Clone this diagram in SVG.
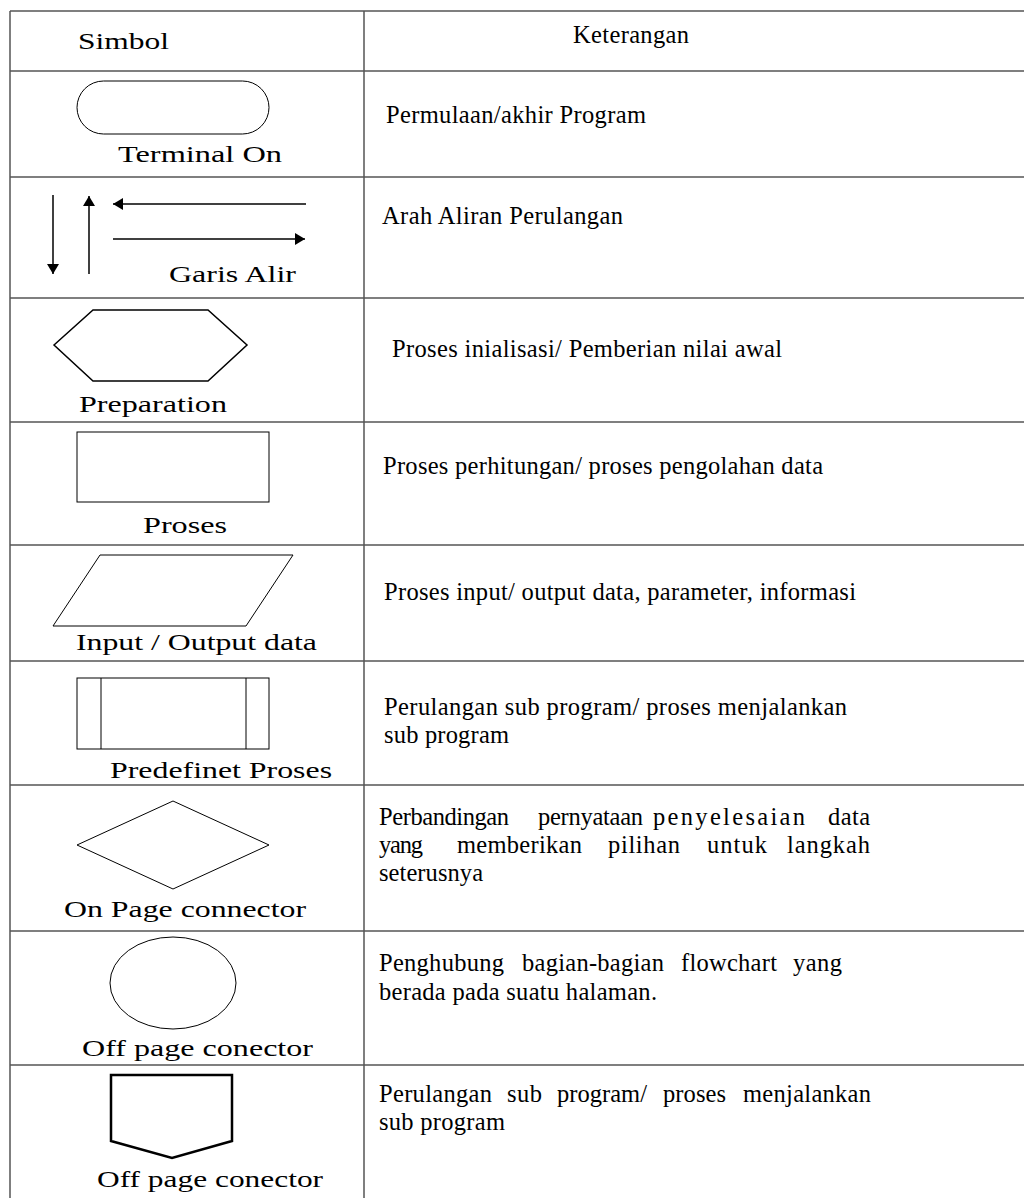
<svg xmlns="http://www.w3.org/2000/svg" width="1024" height="1198" viewBox="0 0 1024 1198">
<style>
.grid{stroke:#555;stroke-width:1.5;fill:none}
.shape{stroke:#000;stroke-width:1;fill:none}
.sym{font-family:"Liberation Serif","Times New Roman",serif;font-size:23px;fill:#000}
.desc{font-family:"Liberation Serif","Times New Roman",serif;font-size:24.5px;fill:#000}
.arr{stroke:#000;stroke-width:1.5;fill:none}
</style>
<defs>
<marker id="ah" viewBox="0 0 10 12" refX="10" refY="6" markerWidth="10" markerHeight="12" markerUnits="userSpaceOnUse" orient="auto">
<path d="M0,0 L10,6 L0,12 z" fill="#000"/>
</marker>
</defs>
<rect width="1024" height="1198" fill="#fff"/>
<g id="table">
<line class="grid" x1="10" y1="11" x2="1024" y2="11"/>
<line class="grid" x1="10" y1="71" x2="1024" y2="71"/>
<line class="grid" x1="10" y1="177" x2="1024" y2="177"/>
<line class="grid" x1="10" y1="298" x2="1024" y2="298"/>
<line class="grid" x1="10" y1="422" x2="1024" y2="422"/>
<line class="grid" x1="10" y1="545" x2="1024" y2="545"/>
<line class="grid" x1="10" y1="661" x2="1024" y2="661"/>
<line class="grid" x1="10" y1="785" x2="1024" y2="785"/>
<line class="grid" x1="10" y1="931" x2="1024" y2="931"/>
<line class="grid" x1="10" y1="1065" x2="1024" y2="1065"/>
<line class="grid" x1="10" y1="11" x2="10" y2="1198"/>
<line class="grid" x1="364" y1="11" x2="364" y2="1198"/>
</g>
<g id="header">
<text class="sym" transform="translate(78,49) scale(1.38,1)" textLength="65.9" lengthAdjust="spacingAndGlyphs">Simbol</text>
<text class="desc" x="573" y="43" textLength="116" lengthAdjust="spacing">Keterangan</text>
</g>
<g id="terminal">
<rect class="shape" x="77" y="81" width="192" height="53" rx="26.5" ry="26.5"/>
<text class="sym" transform="translate(118,162) scale(1.38,1)" textLength="118.8" lengthAdjust="spacingAndGlyphs">Terminal On</text>
<text class="desc" x="386" y="123" textLength="260" lengthAdjust="spacing">Permulaan/akhir Program</text>
</g>
<g id="garis-alir">
<g id="connectors">
<line class="arr" x1="53" y1="195" x2="53" y2="274" marker-end="url(#ah)"/>
<line class="arr" x1="89" y1="274" x2="89" y2="196" marker-end="url(#ah)"/>
<line class="arr" x1="306" y1="204" x2="113" y2="204" marker-end="url(#ah)"/>
<line class="arr" x1="113" y1="239" x2="305" y2="239" marker-end="url(#ah)"/>
</g>
<text class="sym" transform="translate(169,282) scale(1.38,1)" textLength="92" lengthAdjust="spacingAndGlyphs">Garis Alir</text>
<text class="desc" x="382" y="224" textLength="241" lengthAdjust="spacing">Arah Aliran Perulangan</text>
</g>
<g id="preparation">
<polygon class="shape" style="stroke-width:1.5" points="54,345 93,310 208,310 247,345 208,381 93,381"/>
<text class="sym" transform="translate(79,412) scale(1.38,1)" textLength="107.2" lengthAdjust="spacingAndGlyphs">Preparation</text>
<text class="desc" x="392" y="357" textLength="390" lengthAdjust="spacing">Proses inialisasi/ Pemberian nilai awal</text>
</g>
<g id="proses">
<rect class="shape" x="77" y="432" width="192" height="70"/>
<text class="sym" transform="translate(143,533) scale(1.38,1)" textLength="60.9" lengthAdjust="spacingAndGlyphs">Proses</text>
<text class="desc" x="383" y="474" textLength="440" lengthAdjust="spacing">Proses perhitungan/ proses pengolahan data</text>
</g>
<g id="input-output">
<polygon class="shape" points="100,555 293,555 246,626 53,626"/>
<text class="sym" transform="translate(76,650) scale(1.38,1)" textLength="174.6" lengthAdjust="spacingAndGlyphs">Input / Output data</text>
<text class="desc" x="384" y="600" textLength="472" lengthAdjust="spacing">Proses input/ output data, parameter, informasi</text>
</g>
<g id="predefined">
<rect class="shape" x="77" y="678" width="192" height="71"/>
<line class="shape" x1="101" y1="678" x2="101" y2="749"/>
<line class="shape" x1="246" y1="678" x2="246" y2="749"/>
<text class="sym" transform="translate(110,778) scale(1.38,1)" textLength="160.9" lengthAdjust="spacingAndGlyphs">Predefinet Proses</text>
<text class="desc" x="384" y="715" textLength="463" lengthAdjust="spacing">Perulangan sub program/ proses menjalankan</text>
<text class="desc" x="384" y="743" textLength="125" lengthAdjust="spacing">sub program</text>
</g>
<g id="decision">
<polygon class="shape" points="77,845 173,801 269,845 173,889"/>
<text class="sym" transform="translate(64,917) scale(1.38,1)" textLength="175.4" lengthAdjust="spacingAndGlyphs">On Page connector</text>
<text class="desc" x="379" y="825" textLength="130" lengthAdjust="spacing">Perbandingan</text>
<text class="desc" x="538" y="825" textLength="105" lengthAdjust="spacing">pernyataan</text>
<text class="desc" x="653" y="825" textLength="152" lengthAdjust="spacing">penyelesaian</text>
<text class="desc" x="828" y="825" textLength="42" lengthAdjust="spacing">data</text>
<text class="desc" x="379" y="853" textLength="44" lengthAdjust="spacing">yang</text>
<text class="desc" x="457" y="853" textLength="125" lengthAdjust="spacing">memberikan</text>
<text class="desc" x="608" y="853" textLength="72" lengthAdjust="spacing">pilihan</text>
<text class="desc" x="707" y="853" textLength="60" lengthAdjust="spacing">untuk</text>
<text class="desc" x="787" y="853" textLength="83" lengthAdjust="spacing">langkah</text>
<text class="desc" x="379" y="881" textLength="104" lengthAdjust="spacing">seterusnya</text>
</g>
<g id="on-page-connector">
<ellipse class="shape" cx="173" cy="983" rx="63" ry="46"/>
<text class="sym" transform="translate(82,1056) scale(1.38,1)" textLength="167.4" lengthAdjust="spacingAndGlyphs">Off page conector</text>
<text class="desc" x="379" y="971" textLength="125" lengthAdjust="spacing">Penghubung</text>
<text class="desc" x="522" y="971" textLength="142" lengthAdjust="spacing">bagian-bagian</text>
<text class="desc" x="681" y="971" textLength="96" lengthAdjust="spacing">flowchart</text>
<text class="desc" x="793" y="971" textLength="49" lengthAdjust="spacing">yang</text>
<text class="desc" x="379" y="1000" textLength="278" lengthAdjust="spacing">berada pada suatu halaman.</text>
</g>
<g id="off-page-connector">
<polygon class="shape" style="stroke-width:2.5" points="111,1075 232,1075 232,1141 172,1158 111,1141"/>
<text class="sym" transform="translate(97,1187) scale(1.38,1)" textLength="163.8" lengthAdjust="spacingAndGlyphs">Off page conector</text>
<text class="desc" x="379" y="1102" textLength="113" lengthAdjust="spacing">Perulangan</text>
<text class="desc" x="507" y="1102" textLength="35" lengthAdjust="spacing">sub</text>
<text class="desc" x="557" y="1102" textLength="90" lengthAdjust="spacing">program/</text>
<text class="desc" x="663" y="1102" textLength="63" lengthAdjust="spacing">proses</text>
<text class="desc" x="743" y="1102" textLength="128" lengthAdjust="spacing">menjalankan</text>
<text class="desc" x="379" y="1130" textLength="126" lengthAdjust="spacing">sub program</text>
</g>
</svg>
